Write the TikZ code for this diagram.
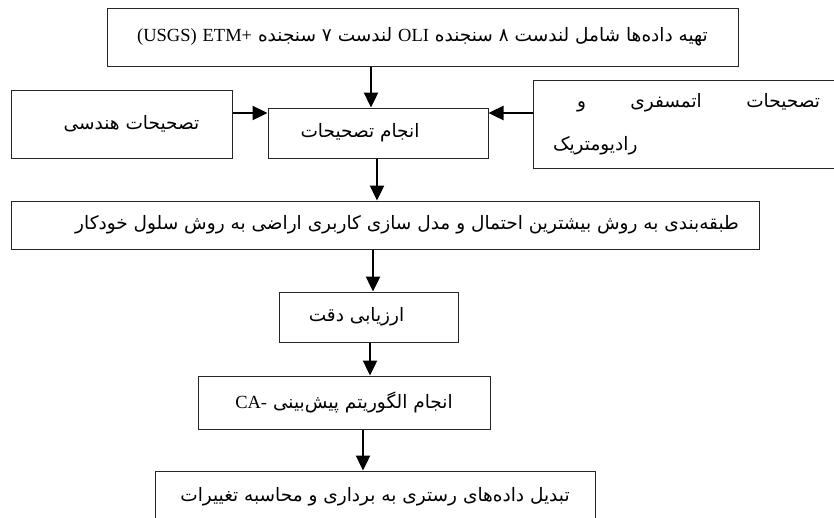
\documentclass[tikz,border=0pt]{standalone}
\usepackage{fontspec}
\usetikzlibrary{arrows.meta}
\TeXXeTstate=1
\newfontfamily\fa[Script=Arabic]{DejaVu Sans}
\newfontfamily\lat{Liberation Serif}
\newcommand{\rtl}[1]{\beginR #1\endR}
\newcommand{\ltr}[1]{\beginL{\lat #1}\endL}

\begin{document}
\begin{tikzpicture}[x=1pt,y=-1pt]
        \tikzset{
            blk/.style={draw=black!85, line width=1pt, inner sep=0pt,
            font=\fa\fontsize{18.5}{22}\selectfont},
            shr/.style={execute at begin node={\hspace*{#1}}},
            shl/.style={execute at end node={\hspace*{#1}}},
            ar/.style={-{Triangle[length=15pt,width=14pt]}, line width=2.4pt}
            }
            \useasboundingbox[fill=white] (0,0) rectangle (834,517);

            \node[blk, minimum width=631pt, minimum height=58pt] (n1) at (422.5,37)
                {\rtl{تهیه داده‌ها شامل لندست ۸ سنجنده \ltr{OLI} لندست ۷ سنجنده \ltr{ETM+} \ltr{(USGS)}}};
            \node[blk, shl=36pt, minimum width=220pt, minimum height=50pt] (n2) at (378,133)
                {\rtl{انجام تصحیحات}};
            \node[blk, shr=20pt, minimum width=221pt, minimum height=68pt] (n3) at (121.5,124)
                {\rtl{تصحیحات هندسی}};
            \node[blk, minimum width=307pt, minimum height=88pt, text width=267pt, align=left] (n4) at (686.5,124)
                {\hspace*{24pt}\rtl{و}\hfill\rtl{اتمسفری}\hfill\rtl{تصحیحات}\\[21pt]\rtl{رادیومتریک}};
            \node[blk, shr=44pt, minimum width=748pt, minimum height=48pt] (n5) at (385,225)
                {\rtl{طبقه‌بندی به روش بیشترین  احتمال و مدل سازی کاربری اراضی به روش سلول خودکار}};
            \node[blk, shl=24pt, minimum width=179pt, minimum height=50pt] (n6) at (368.5,317)
                {\rtl{ارزیابی دقت}};
            \node[blk, minimum width=292pt, minimum height=53pt] (n7) at (344,402.5)
                {\rtl{انجام الگوریتم پیش‌بینی \ltr{CA-}}};
            \node[blk, minimum width=440pt, minimum height=52pt] (n8) at (375,497)
                {\rtl{تبدیل داده‌های رستری به برداری و محاسبه تغییرات}};

            \coordinate (c1) at ([xshift=-7pt]n2.north);
            \coordinate (c2) at ([yshift=20pt]n2.west);
            \coordinate (c3) at ([yshift=20pt]n2.east);
            \coordinate (c4) at ([xshift=-1pt]n2.south);
            \coordinate (c5) at ([xshift=4.5pt]n6.north);
            \coordinate (c6) at ([xshift=1.5pt]n6.south);
            \coordinate (c7) at ([xshift=19pt]n7.south);

            \draw[ar] (n1.south -| c1) -- (c1);
            \draw[ar] (n3.east |- c2) -- (c2);
            \draw[ar] (n4.west |- c3) -- (c3);
            \draw[ar] (c4) -- (n5.north -| c4);
            \draw[ar] (n5.south -| c5) -- (c5);
            \draw[ar] (c6) -- (n7.north -| c6);
            \draw[ar] (c7) -- (n8.north -| c7);
        \end{tikzpicture}
\end{document}
